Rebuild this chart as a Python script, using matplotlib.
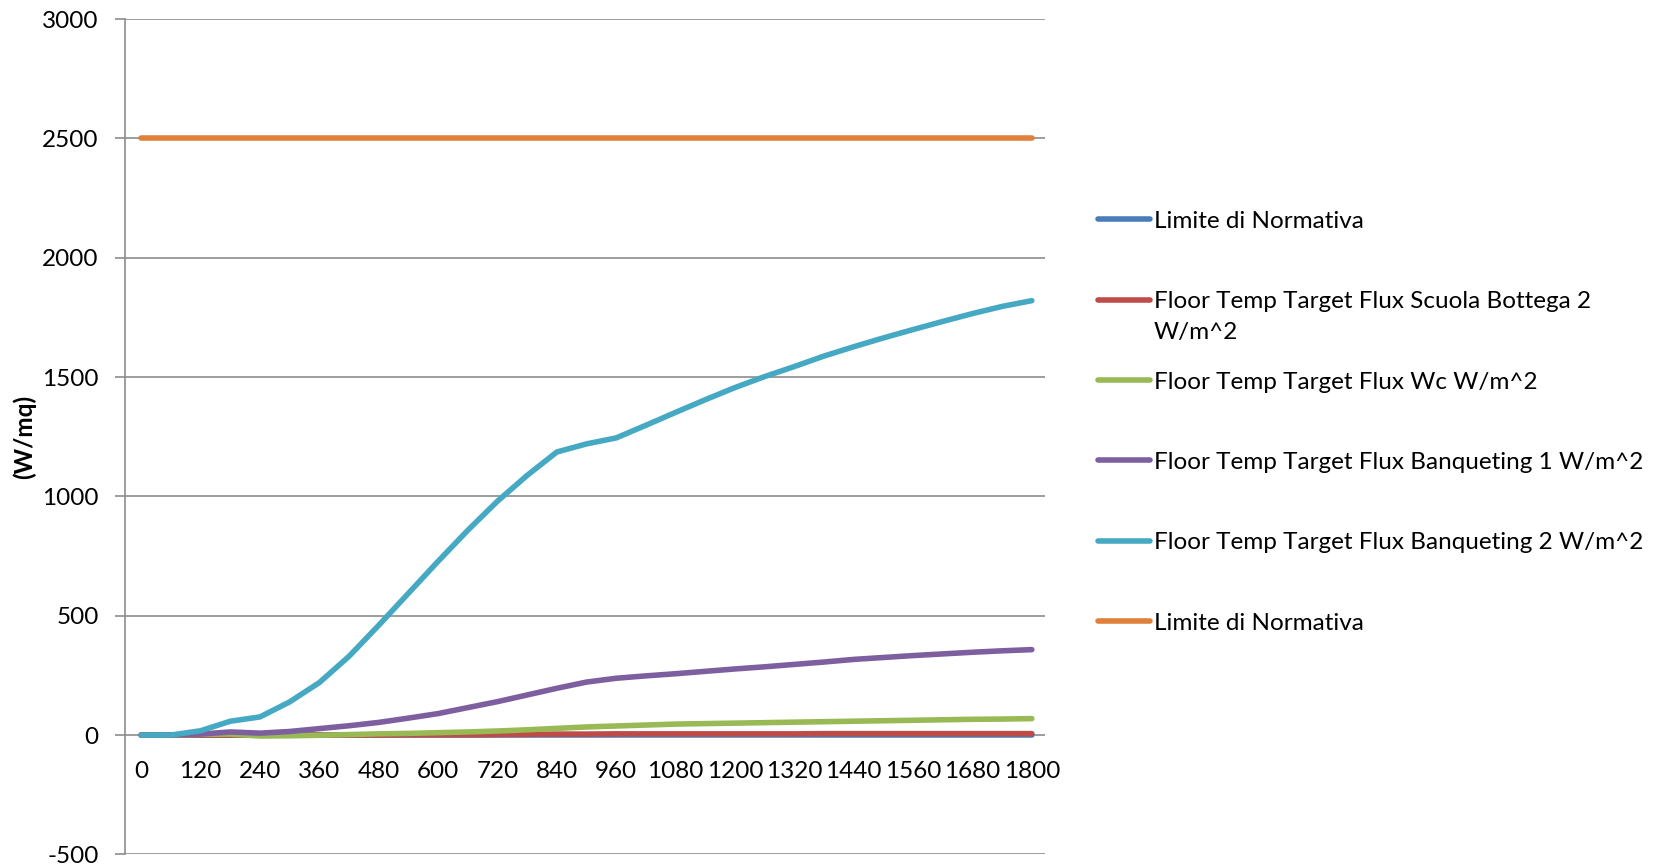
import matplotlib
matplotlib.use("Agg")
import matplotlib.pyplot as plt
from matplotlib.lines import Line2D

plt.rcParams["font.family"] = ["Lato", "DejaVu Sans"]
plt.rcParams["axes.unicode_minus"] = False

# time steps (s), one every 60 s, label shown every 120 s
time_s = list(range(0, 1801, 60))

limite_blue = [0] * 31
scuola_bottega_2 = [0, 0, 0, 0, 0, 0, 0, 0, 0, 1, 1, 1, 2, 3, 4, 4,
                    5, 5, 5, 5, 5, 5, 5, 6, 6, 6, 6, 6, 6, 6, 6]
wc = [0, 0, 3, 4, -4, -3, -1, 2, 5, 7, 10, 13, 17, 22, 28, 34,
      38, 42, 46, 48, 50, 52, 54, 56, 58, 60, 62, 64, 66, 67, 69]
banqueting_1 = [0, 0, 4, 13, 8, 15, 27, 39, 53, 71, 90, 115, 140, 168, 196, 222,
                238, 248, 257, 267, 277, 286, 296, 306, 317, 325, 333, 340, 347, 353, 358]
banqueting_2 = [0, 0, 18, 58, 76, 139, 220, 330, 460, 594, 728, 858, 980, 1088, 1186, 1220,
                1245, 1298, 1352, 1405, 1456, 1502, 1544, 1588, 1627, 1664, 1699, 1733, 1766, 1796, 1820]
limite_orange = [2500] * 31

labels = [
    "Limite di Normativa",
    "Floor Temp Target Flux Scuola Bottega 2",
    "Floor Temp Target Flux Wc W/m^2",
    "Floor Temp Target Flux Banqueting 1 W/m^2",
    "Floor Temp Target Flux Banqueting 2 W/m^2",
    "Limite di Normativa",
]
colors = ["#4A7CB9", "#BE4B48", "#98B954", "#7D5FA0", "#46A9C4", "#E0803A"]
series = [limite_blue, scuola_bottega_2, wc, banqueting_1, banqueting_2, limite_orange]

fs = 17.5

fig = plt.figure(figsize=(16.59, 8.66), dpi=100)
ax = fig.add_axes([0.0753, 0.0134, 0.5547, 0.9646])

x = list(range(len(time_s)))
for s, c in zip(series, colors):
    ax.plot(x, s, color=c, linewidth=4, solid_capstyle="round")

ax.set_xlim(-0.55, 30.45)
ax.set_ylim(-500, 3000)
ax.set_yticks(range(-500, 3001, 500))
ax.grid(axis="y", color="#8c8c8c", linewidth=1.2)
ax.set_axisbelow(True)

ax.set_xticks(x[::2])
ax.set_xticklabels([str(t) for t in time_s[::2]])
ax.spines["bottom"].set_position(("data", 0))
ax.spines["bottom"].set_visible(False)
for side in ["top", "right"]:
    ax.spines[side].set_visible(False)
ax.spines["left"].set_color("#8c8c8c")
ax.spines["left"].set_linewidth(1.2)
ax.tick_params(axis="x", length=0, pad=19, labelsize=fs)
ax.tick_params(axis="y", length=7, color="#8c8c8c", width=1.2, pad=12, labelsize=fs)

ax.set_ylabel("(W/mq)", fontsize=fs, fontweight="bold", labelpad=4)

handles = [Line2D([], [], color=c, linewidth=4, solid_capstyle="round") for c in colors]
leg = fig.legend(handles, labels, loc="upper left", bbox_to_anchor=(0.6545, 0.7705),
                 frameon=False, fontsize=fs, handlelength=2.15, handletextpad=0.15,
                 labelspacing=2.44, borderpad=0)
# wrapped second line of the Scuola Bottega label
fig.text(0.6955, 0.616, "W/m^2", fontsize=fs, va="center", ha="left")

fig.savefig("out.png", dpi=100)
